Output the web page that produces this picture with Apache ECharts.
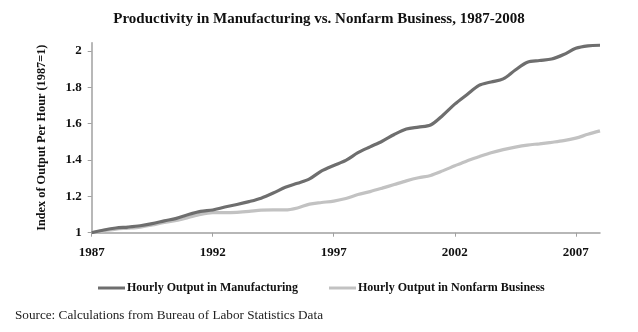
<!DOCTYPE html>
<html>
<head>
<meta charset="utf-8">
<script src="https://cdn.jsdelivr.net/npm/echarts@6/dist/echarts.min.js"></script>
<style>html,body{margin:0;padding:0;background:#fff}#c{width:638px;height:332px}</style>
</head>
<body>
<div id="c"></div>
<script>
var periods = ['1987','1987.5','1988','1988.5','1989','1989.5','1990','1990.5','1991','1991.5',
  '1992','1992.5','1993','1993.5','1994','1994.5','1995','1995.5','1996','1996.5',
  '1997','1997.5','1998','1998.5','1999','1999.5','2000','2000.5','2001','2001.5',
  '2002','2002.5','2003','2003.5','2004','2004.5','2005','2005.5','2006','2006.5',
  '2007','2007.5','2008'];
var manufacturing = [1.000,1.015,1.026,1.031,1.038,1.050,1.065,1.079,1.100,1.117,
  1.125,1.141,1.155,1.171,1.190,1.218,1.250,1.272,1.296,1.340,
  1.370,1.398,1.440,1.472,1.503,1.540,1.570,1.581,1.592,1.645,
  1.707,1.759,1.810,1.829,1.846,1.895,1.938,1.947,1.955,1.980,
  2.014,2.028,2.031];
var nonfarm = [1.000,1.010,1.020,1.025,1.031,1.043,1.056,1.067,1.084,1.101,
  1.110,1.110,1.112,1.117,1.124,1.125,1.125,1.136,1.157,1.166,
  1.174,1.188,1.210,1.226,1.245,1.265,1.285,1.302,1.315,1.340,
  1.368,1.395,1.418,1.440,1.457,1.471,1.482,1.489,1.497,1.506,
  1.520,1.541,1.560];
var titleText = 'Productivity in Manufacturing vs. Nonfarm Business, 1987-2008';
var sourceText = 'Source: Calculations from Bureau of Labor Statistics Data';
var yName = 'Index of Output Per Hour (1987=1)';
var seriesNames = ['Hourly Output in Manufacturing', 'Hourly Output in Nonfarm Business'];

var serif = '"Liberation Serif", "DejaVu Serif", serif';
var chart = echarts.init(document.getElementById('c'), null, {renderer: 'canvas'});
chart.setOption({
  animation: false,
  backgroundColor: '#fff',
  title: [
    {text: titleText, left: 'center', top: 7,
     textStyle: {fontFamily: serif, fontSize: 15, fontWeight: 'bold', color: '#111'}},
    {text: sourceText, left: 10, top: 304,
     textStyle: {fontFamily: serif, fontSize: 13.2, fontWeight: 'normal', color: '#222'}}
  ],
  legend: {
    left: 93, top: 277, itemWidth: 27, itemHeight: 3, itemGap: 31,
    icon: 'rect',
    textStyle: {fontFamily: serif, fontSize: 12, fontWeight: 'bold', color: '#111', padding: [0,0,0,-3]},
    data: seriesNames
  },
  grid: {left: 91.7, right: 38, top: 42.7, bottom: 99.3, containLabel: false},
  xAxis: {
    type: 'category', data: periods, boundaryGap: false,
    axisLine: {lineStyle: {color: '#a0a0a0', width: 1.5}},
    axisTick: {show: true, interval: 9, length: 4, lineStyle: {color: '#a0a0a0'}},
    axisLabel: {interval: 9, margin: 13, fontFamily: serif, fontSize: 13, fontWeight: 'bold', color: '#111'},
    splitLine: {show: false}
  },
  yAxis: {
    type: 'value', min: 1, max: 2.045, interval: 0.2,
    name: yName, nameLocation: 'middle', nameRotate: 90, nameGap: 44,
    nameTextStyle: {fontFamily: serif, fontSize: 12.3, fontWeight: 'bold', color: '#111'},
    axisLine: {show: true, lineStyle: {color: '#a0a0a0', width: 1.5}},
    axisTick: {show: true, length: 4, lineStyle: {color: '#a0a0a0'}},
    axisLabel: {showMaxLabel: false, margin: 10, fontFamily: serif, fontSize: 13, fontWeight: 'bold', color: '#111',
      formatter: function (v) { return String(Math.round(v * 10) / 10); }},
    splitLine: {show: false}
  },
  series: [
    {name: seriesNames[0], type: 'line', data: manufacturing, smooth: 0.3, symbol: 'none',
     itemStyle: {color: '#6e6e6e'}, lineStyle: {color: '#6e6e6e', width: 3.2}, z: 3},
    {name: seriesNames[1], type: 'line', data: nonfarm, smooth: 0.3, symbol: 'none',
     itemStyle: {color: '#c2c2c2'}, lineStyle: {color: '#c2c2c2', width: 3.2}, z: 2}
  ]
});
</script>
</body>
</html>
